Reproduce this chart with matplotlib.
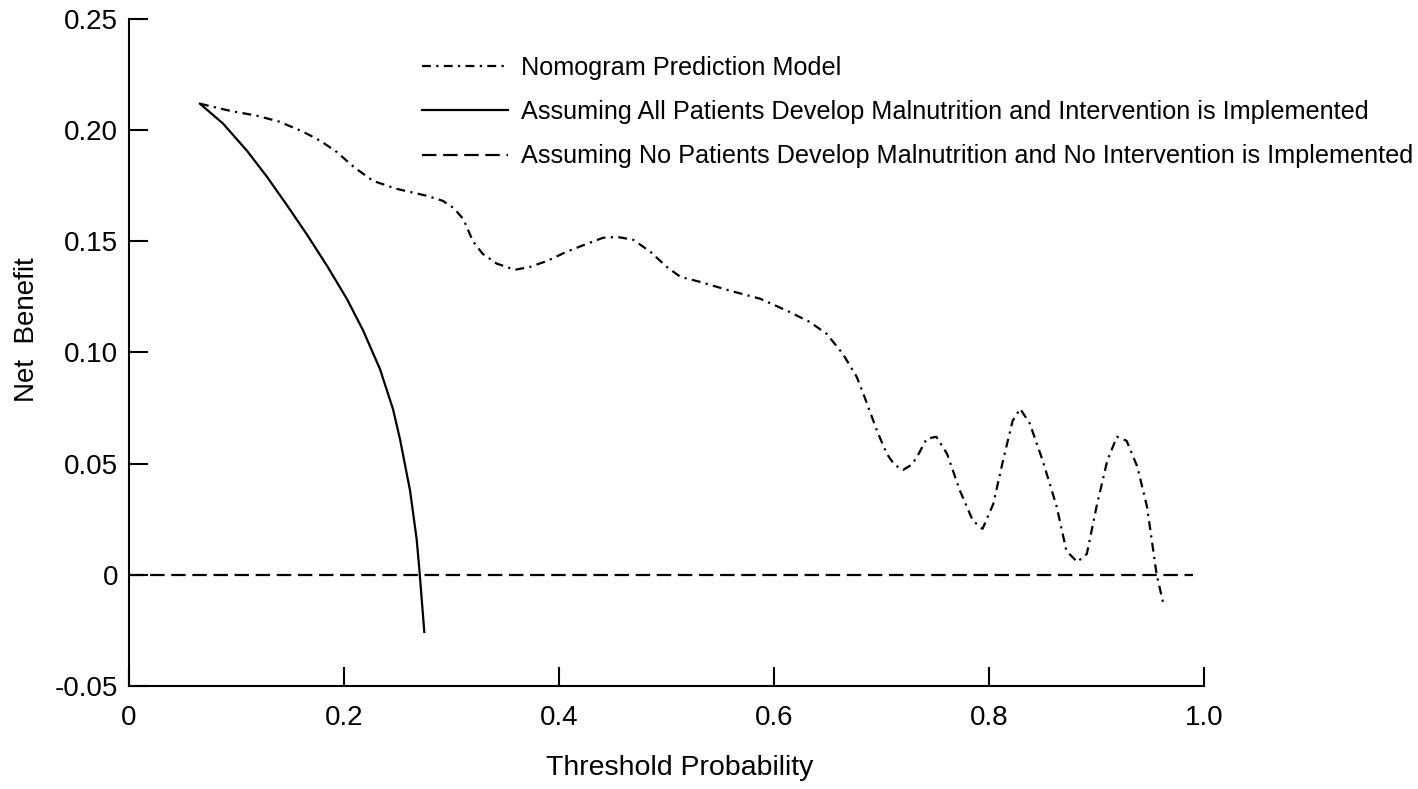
import numpy as np
import matplotlib
matplotlib.use('Agg')
import matplotlib.pyplot as plt

plt.rcParams['font.family'] = ['Liberation Sans', 'DejaVu Sans']

# nomogram model net benefit
nomo_x = [0.066, 0.094, 0.119, 0.140, 0.162, 0.178, 0.193, 0.209, 0.227, 0.249,
          0.277, 0.292, 0.302, 0.311, 0.320, 0.329, 0.342, 0.359, 0.373, 0.389,
          0.407, 0.426, 0.441, 0.454, 0.469, 0.485, 0.500, 0.513, 0.531, 0.559,
          0.587, 0.612, 0.633, 0.649, 0.664, 0.677, 0.685, 0.696, 0.705, 0.712,
          0.720, 0.728, 0.733, 0.742, 0.751, 0.761, 0.773, 0.785, 0.794, 0.804,
          0.813, 0.822, 0.829, 0.838, 0.850, 0.863, 0.872, 0.882, 0.891, 0.900,
          0.910, 0.919, 0.928, 0.938, 0.947, 0.956, 0.962]
nomo_y = [0.2119, 0.2087, 0.2065, 0.2038, 0.1993, 0.1952, 0.1903, 0.1835, 0.1772, 0.1736,
          0.1705, 0.1682, 0.1650, 0.1600, 0.1500, 0.1444, 0.1400, 0.1372, 0.1385, 0.1412,
          0.1453, 0.1489, 0.1516, 0.1520, 0.1507, 0.1453, 0.1386, 0.1340, 0.1318, 0.1278,
          0.1242, 0.1188, 0.1138, 0.1084, 0.0994, 0.0890, 0.0790, 0.0645, 0.0544, 0.0495,
          0.0472, 0.0495, 0.0530, 0.0612, 0.0621, 0.0544, 0.0378, 0.0243, 0.0207, 0.0319,
          0.0513, 0.0693, 0.0747, 0.0680, 0.0513, 0.0306, 0.0108, 0.0058, 0.0094, 0.0306,
          0.0513, 0.0621, 0.0603, 0.0486, 0.0306, 0.0000, -0.0126]

# treat-all curve
all_x = [0.066, 0.0874, 0.1098, 0.1284, 0.147, 0.1656, 0.1842, 0.2028, 0.2177, 0.2335,
         0.2456, 0.2521, 0.2614, 0.2676, 0.2700, 0.2747]
all_y = [0.2119, 0.2030, 0.1907, 0.1790, 0.1662, 0.1530, 0.1390, 0.1240, 0.1100, 0.0925,
         0.0745, 0.0610, 0.0380, 0.0160, 0.0030, -0.0257]

# treat-none line
none_x = [0.0, 0.99]
none_y = [0.0, 0.0]

labels = ['Nomogram Prediction Model',
          'Assuming All Patients Develop Malnutrition and Intervention is Implemented',
          'Assuming No Patients Develop Malnutrition and No Intervention is Implemented']

xticks = [0, 0.2, 0.4, 0.6, 0.8, 1.0]
xtick_labels = ['0', '0.2', '0.4', '0.6', '0.8', '1.0']
yticks = [-0.05, 0, 0.05, 0.10, 0.15, 0.20, 0.25]
ytick_labels = ['-0.05', '0', '0.05', '0.10', '0.15', '0.20', '0.25']

fig = plt.figure(figsize=(14.18, 7.89), dpi=100)
ax = fig.add_axes([129/1418, 1-686/789, (1204-129)/1418, (686-19)/789])

ax.plot(nomo_x, nomo_y, color='k', lw=1.6, dashes=(4.0, 2.4, 1.0, 2.4), label=labels[0])
ax.plot(all_x, all_y, color='k', lw=1.6, label=labels[1])
ax.plot(none_x, none_y, color='k', lw=1.6, dashes=(6.5, 3.0), label=labels[2])

ax.set_xlim(0, 1.0)
ax.set_ylim(-0.05, 0.25)
ax.set_xticks(xticks)
ax.set_xticklabels(xtick_labels)
ax.set_yticks(yticks)
ax.set_yticklabels(ytick_labels)

for s in ['top', 'right']:
    ax.spines[s].set_visible(False)
for s in ['left', 'bottom']:
    ax.spines[s].set_linewidth(1.5)
ax.tick_params(direction='in', length=14, width=1.5, labelsize=20)
ax.tick_params(axis='y', pad=8)
ax.tick_params(axis='x', pad=14)

ax.set_xlabel('Threshold Probability', fontsize=20.5)
ax.set_ylabel('Net  Benefit', fontsize=20)
ax.xaxis.set_label_coords(0.5126, -0.103)
ax.yaxis.set_label_coords(-0.083, 0.534)

ax.legend(loc='upper left', bbox_to_anchor=(422/1418, 1-56/789),
          bbox_transform=fig.transFigure, frameon=False, fontsize=18.2,
          handlelength=3.4, handletextpad=0.52, labelspacing=0.8,
          borderpad=0, borderaxespad=0)

fig.savefig('out.png', dpi=100)
